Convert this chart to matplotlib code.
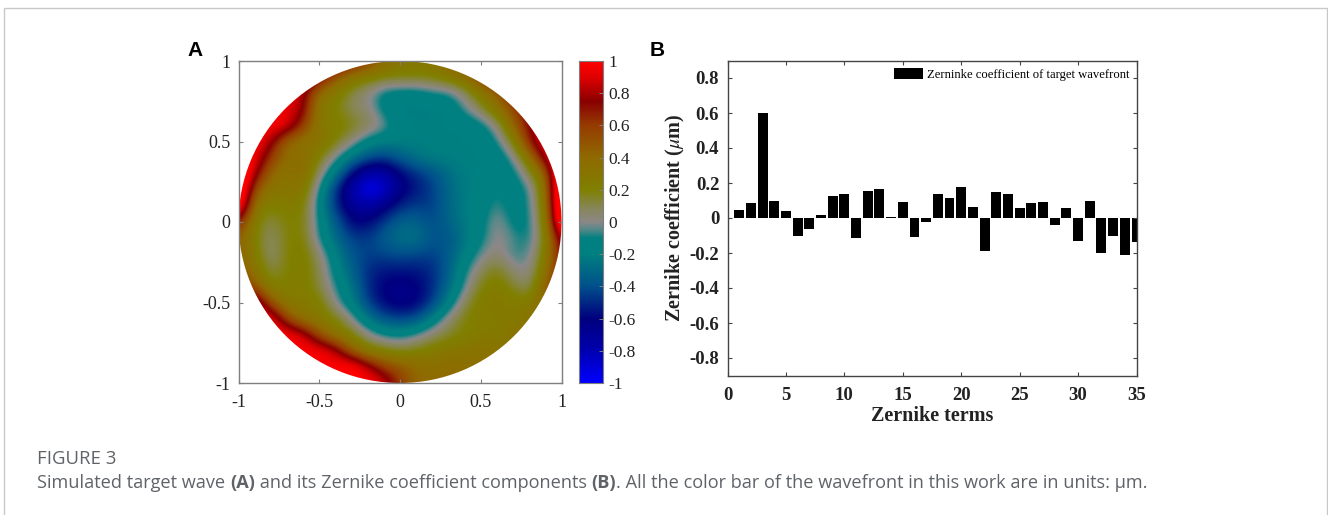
import numpy as np
import matplotlib
matplotlib.use("Agg")
import matplotlib.pyplot as plt
from matplotlib.colors import LinearSegmentedColormap
from matplotlib.patches import Circle, Rectangle

W, H = 1328, 515
plt.rcParams['axes.unicode_minus'] = False
plt.rcParams['mathtext.fontset'] = 'stix'
SERIF = ['Liberation Serif', 'DejaVu Serif']

wave_rows = [
    [1, 1, 1, 1, 1, 1, .9, .8, .6, .4, .3, .3, .3, .4, .5, .5, .6, .7, .8, .9, 1],
    [1, 1, 1, 1, 1, .8, .5, .3, .25, .2, .2, .2, .22, .3, .4, .6, .7, .8, .9, 1, 1],
    [1, 1, 1, 1, .8, .35, .25, .1, 0, -.15, -.18, -.18, -.12, -.1, .05, .3, .45, .7, .9, 1, 1],
    [1, 1, 1, .9, .8, .25, .2, .07, .05, -.15, -.22, -.22, -.22, -.2, -.05, .1, .35, .55, .8, 1, 1],
    [1, 1, 1, .95, .6, .25, .25, .2, .1, 0, -.18, -.2, -.2, -.2, -.2, -.15, .03, .45, .75, 1, 1],
    [1, 1, .8, .4, .3, .35, .2, .03, -.15, -.2, -.2, -.2, -.2, -.2, -.2, -.2, -.1, .2, .7, 1, 1],
    [1.2, .95, .6, .35, .4, .2, -.03, -.25, -.4, -.45, -.35, -.25, -.2, -.2, -.2, -.2, -.2, -.03, .35, .85, 1.2],
    [1.3, .8, .4, .3, .4, .05, -.25, -.6, -.8, -.8, -.6, -.5, -.4, -.28, -.2, -.2, -.2, -.15, .1, .45, 1.3],
    [1.3, .5, .3, .3, .3, -.1, -.5, -.8, -1, -.9, -.65, -.55, -.45, -.3, -.22, -.17, -.08, -.18, -.08, .35, 1.4],
    [1.2, .3, .2, .25, .22, -.15, -.5, -.7, -.75, -.65, -.5, -.45, -.45, -.3, -.22, -.15, -.05, -.15, -.1, .3, 1.4],
    [.7, .2, .1, .2, .2, -.12, -.35, -.6, -.6, -.45, -.32, -.32, -.42, -.32, -.22, -.15, .03, -.14, -.12, .25, 1.3],
    [.45, .2, .05, .2, .22, -.1, -.3, -.45, -.45, -.35, -.25, -.25, -.38, -.38, -.25, -.12, .03, -.05, -.12, .2, .9],
    [.45, .25, .03, .2, .25, .05, -.2, -.38, -.45, -.42, -.4, -.42, -.45, -.35, -.2, -.03, .05, -.08, -.05, .25, .8],
    [.5, .3, .1, .2, .25, .1, -.15, -.33, -.5, -.55, -.55, -.55, -.5, -.35, -.1, .08, .2, .03, -.02, .35, .7],
    [.7, .5, .2, .22, .25, .12, -.08, -.25, -.5, -.62, -.65, -.62, -.5, -.3, -.05, .2, .25, .15, .05, .5, .7],
    [1, 1, .5, .25, .25, .25, -.02, -.2, -.45, -.6, -.65, -.62, -.45, -.2, .1, .25, .28, .25, .25, .4, .6],
    [1, 1, 1, .55, .3, .25, .2, 0, -.25, -.4, -.45, -.4, -.2, .05, .2, .25, .25, .25, .3, .4, .5],
    [1, 1, 1, 1, .9, .5, .3, .2, .02, -.1, -.13, -.05, .07, .15, .2, .25, .25, .3, .35, .4, .5],
    [1, 1, 1, 1, 1, 1, .85, .45, .25, .2, .15, .2, .25, .3, .3, .35, .3, .35, .4, .4, .5],
    [1, 1, 1, 1, 1, 1, 1, 1.1, .85, .6, .5, .4, .35, .4, .35, .35, .35, .4, .4, .4, .5],
    [1, 1, 1, 1, 1, 1, 1, 1, 1, .9, .6, .4, .4, .4, .4, .4, .4, .4, .4, .4, .5],
]
colorbar_ticks = [-1, -.8, -.6, -.4, -.2, 0, .2, .4, .6, .8, 1]
colorbar_labels = ['-1', '-0.8', '-0.6', '-0.4', '-0.2', '0', '0.2', '0.4', '0.6', '0.8', '1']
wave_ticks = [-1, -.5, 0, .5, 1]
wave_labels = ['-1', '-0.5', '0', '0.5', '1']

# Panel B: Zernike coefficients
zernike_terms = list(range(1, 36))
zernike_values = [.045, .085, .60, .10, .04, -.105, -.06, .015, .125, .135, -.115, .155, .165, .005,
                  .09, -.11, -.025, .14, .115, .175, .065, -.19, .15, .14, .055, .085, .09, -.04,
                  .06, -.13, .10, -.20, -.105, -.21, -.135]
x_ticks_b = [0, 5, 10, 15, 20, 25, 30, 35]
y_ticks_b = [-.8, -.6, -.4, -.2, 0, .2, .4, .6, .8]
y_labels_b = ['-0.8', '-0.6', '-0.4', '-0.2', '0', '0.2', '0.4', '0.6', '0.8']
legend_label = 'Zerninke coefficient of target wavefront'

cmap_stops = [(-1, '#0000ff'), (-.8, '#0000b0'), (-.6, '#00007e'), (-.4, '#00508c'), (-.2, '#008080'),
              (-.1, '#008080'), (-.05, '#4f8888'), (0, '#8c8888'), (.1, '#868650'), (.2, '#808000'),
              (.4, '#8f6a00'), (.6, '#963c00'), (.75, '#8a0000'), (.9, '#e00000'), (1, '#ff0000')]
cmap = LinearSegmentedColormap.from_list('wave', [((v + 1) / 2, c) for v, c in cmap_stops], N=512)


def axes_px(fig, x0, y0, x1, y1):
    return fig.add_axes([x0 / W, 1 - y1 / H, (x1 - x0) / W, (y1 - y0) / H])


fig = plt.figure(figsize=(W / 100, H / 100), dpi=100, facecolor='white')

# Card frame
card = fig.add_axes([0, 0, 1, 1], zorder=-5)
card.set_xlim(0, W)
card.set_ylim(H, 0)
card.axis('off')
card.add_patch(Rectangle((3.5, 7.5), 1323, 540, fc='white', ec='#c8c8c8', lw=1))

# Panel A
GREY = '#7f7f7f'
axa = axes_px(fig, 238.5, 61, 561.5, 383)
im = axa.imshow(np.array(wave_rows), extent=[-1.05, 1.05, -1.05, 1.05], origin='upper', cmap=cmap,
                vmin=-1, vmax=1, interpolation='bicubic', interpolation_stage='data', aspect='auto')
im.set_clip_path(Circle((0, 0), 1, transform=axa.transData))
axa.set_xlim(-1, 1)
axa.set_ylim(-1, 1)
axa.set_xticks(wave_ticks, wave_labels, family=SERIF, fontsize=13, color='#222222')
axa.set_yticks(wave_ticks, wave_labels, family=SERIF, fontsize=13, color='#222222')
axa.tick_params(direction='in', length=3, width=.8, color=GREY, top=True, right=True)
axa.tick_params(axis='x', pad=8)
axa.tick_params(axis='y', pad=6)
for s in axa.spines.values():
    s.set_color(GREY)
    s.set_linewidth(1)

cax = axes_px(fig, 579, 61, 603, 383)
grad = np.linspace(1, -1, 512).reshape(-1, 1)
cax.imshow(grad, extent=[0, 1, -1, 1], cmap=cmap, vmin=-1, vmax=1, aspect='auto')
cax.set_xticks([])
cax.yaxis.tick_right()
cax.set_yticks(colorbar_ticks, colorbar_labels, family=SERIF, fontsize=12.5, color='#222222')
cax.tick_params(direction='in', length=3, width=.7, color=GREY, pad=4)
for s in cax.spines.values():
    s.set_color(GREY)
    s.set_linewidth(.8)

# Panel B
DARK = '#444444'
axb = axes_px(fig, 727.5, 60.5, 1136.5, 375.5)
axb.bar(zernike_terms, zernike_values, width=.85, color='black', label=legend_label)
axb.set_xlim(0, 35)
axb.set_ylim(-.9, .9)
axb.set_xticks(x_ticks_b, [str(t) for t in x_ticks_b], family=SERIF, fontsize=13.5, fontweight='bold', color='#222222')
axb.set_yticks(y_ticks_b, y_labels_b, family=SERIF, fontsize=13.5, fontweight='bold', color='#222222')
axb.tick_params(direction='in', length=3, width=.8, color=DARK, top=True, right=True)
axb.tick_params(axis='x', pad=8)
axb.tick_params(axis='y', pad=6)
for s in axb.spines.values():
    s.set_color(DARK)
    s.set_linewidth(1)
axb.set_xlabel('Zernike terms', family=SERIF, fontsize=14.5, fontweight='bold', color='#222222', labelpad=2)
axb.set_ylabel(r'Zernike coefficient ($\mu$m)', family=SERIF, fontsize=14.5, fontweight='bold', color='#222222', labelpad=2)
axb.legend(loc='upper right', frameon=False, prop={'family': SERIF, 'size': 9.1},
           handlelength=2.3, handleheight=.95, handletextpad=.25, borderaxespad=0, borderpad=0,
           bbox_to_anchor=(.982, .976))

# Panel letters
for label, x in (('A', 187), ('B', 650)):
    fig.text(x / W, 1 - 55.5 / H, label, family=['Liberation Sans'], fontweight='bold', fontsize=15, color='black')

# Caption
CAP = '#5f6368'
fig.text(37 / W, 1 - 464 / H, 'FIGURE 3', family=['Open Sans'], fontsize=13.4, color=CAP, fontweight='medium')
pieces = [('Simulated target wave ', 'normal'), ('(A)', 'bold'), (' and its Zernike coefficient components ', 'normal'),
          ('(B)', 'bold'), ('. All the color bar of the wavefront in this work are in units: μm.', 'normal')]
renderer = fig.canvas.get_renderer()
cursor = 37.0
for txt, weight in pieces:
    t = fig.text(cursor / W, 1 - 488 / H, txt, family=['Open Sans'], fontsize=13.1, color=CAP, fontweight=weight,
                 va='baseline')
    cursor += t.get_window_extent(renderer).width

fig.savefig('out.png', dpi=100)
